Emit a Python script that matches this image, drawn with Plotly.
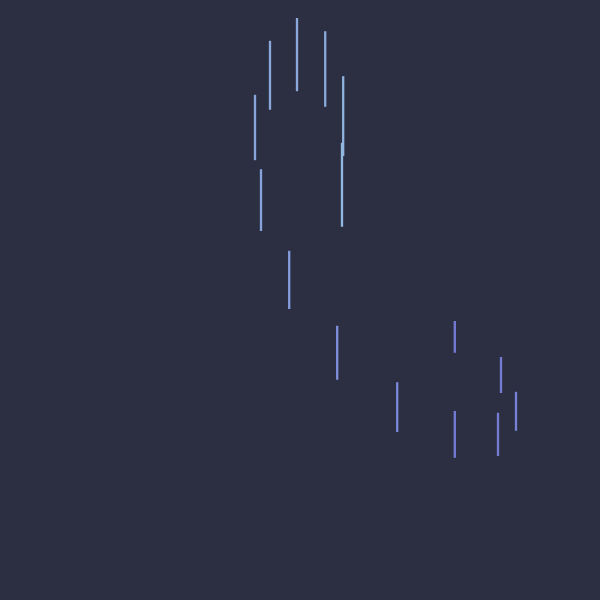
import plotly.graph_objects as go

# Each segment: x position, low and high values
seg_x    = [49.5, 45.0, 54.2, 42.5, 57.2, 57.0, 43.5, 48.2, 56.2, 66.2, 75.8, 83.5, 86.0, 75.8, 83.0]
seg_high = [97.0, 93.2, 94.8, 84.2, 87.3, 76.2, 71.8, 58.2, 45.7, 36.3, 46.5, 40.5, 34.7, 31.5, 31.2]
seg_low  = [84.8, 81.7, 82.2, 73.3, 74.0, 62.2, 61.5, 48.5, 36.7, 28.0, 41.2, 34.5, 28.2, 23.7, 24.0]
seg_colors = ["#8aa8da", "#8aa8da", "#8aa8da", "#88a4da", "#90b4e0", "#92b8e2", "#88a2dc",
              "#849cdc", "#8090dc", "#7c88dc", "#747cd6", "#747cd6", "#7880d8", "#747cd6", "#747cd6"]

fig = go.Figure()
for x, lo, hi, c in zip(seg_x, seg_low, seg_high, seg_colors):
    fig.add_trace(go.Scatter(x=[x, x], y=[lo, hi], mode="lines",
                             line=dict(color=c, width=2.3), hoverinfo="skip", showlegend=False))

fig.update_layout(
    width=600, height=600,
    paper_bgcolor="#2c2f42", plot_bgcolor="#2c2f42",
    margin=dict(l=0, r=0, t=0, b=0),
    xaxis=dict(range=[0, 100], visible=False),
    yaxis=dict(range=[0, 100], visible=False),
    showlegend=False,
)
fig.write_html("out.html", config={"displayModeBar": False},
               post_script="document.body.style.margin='0';document.body.style.background='#2c2f42';")
